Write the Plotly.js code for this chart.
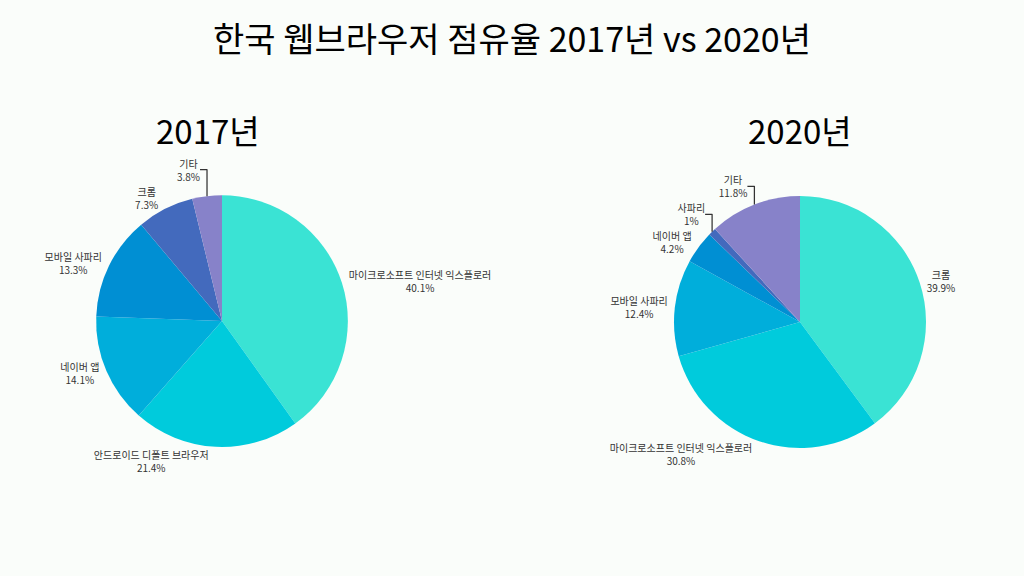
<!DOCTYPE html>
<html>
<head>
<meta charset="utf-8">
<script src="https://cdn.plot.ly/plotly-3.0.1.min.js"></script>
<style>
  html, body { margin: 0; padding: 0; background: #fafdfa; }
  #myDiv { width: 1024px; height: 576px; }
</style>
</head>
<body>
<div id="myDiv"></div>
<script>
var labels2017 = ['마이크로소프트 인터넷 익스플로러', '안드로이드 디폴트 브라우저', '네이버 앱', '모바일 사파리', '크롬', '기타'];
var values2017 = [40.1, 21.4, 14.1, 13.3, 7.3, 3.8];

var labels2020 = ['크롬', '마이크로소프트 인터넷 익스플로러', '모바일 사파리', '네이버 앱', '사파리', '기타'];
var values2020 = [39.9, 30.8, 12.4, 4.2, 1, 11.8];

var sliceColors = ['#3ae3d4', '#00cbdc', '#00aedb', '#008fd3', '#436abd', '#8782c9'];

var font = 'Noto Sans CJK KR, Noto Sans, sans-serif';

var trace1 = {
    type: 'pie',
    labels: labels2017,
    values: values2017,
    sort: false,
    direction: 'clockwise',
    rotation: 0,
    marker: { colors: sliceColors, line: { width: 0 } },
    textposition: 'outside',
    texttemplate: '%{label}<br>%{value}%',
    textfont: { size: 10, color: '#333', family: font },
    domain: { x: [0.0938, 0.3398], y: [0.224, 0.661] },
    showlegend: false,
    hoverinfo: 'label+value'
};

var trace2 = {
    type: 'pie',
    labels: labels2020,
    values: values2020,
    sort: false,
    direction: 'clockwise',
    rotation: 0,
    marker: { colors: sliceColors, line: { width: 0 } },
    textposition: 'outside',
    texttemplate: '%{label}<br>%{value}%',
    textfont: { size: 10, color: '#333', family: font },
    domain: { x: [0.6582, 0.9043], y: [0.222, 0.660] },
    showlegend: false,
    hoverinfo: 'label+value'
};

var layout = {
    width: 1024,
    height: 576,
    margin: { l: 0, r: 0, t: 0, b: 0 },
    paper_bgcolor: '#fafdfa',
    title: {
        text: '한국 웹브라우저 점유율 2017년 vs 2020년',
        font: { family: font, size: 34, color: '#000' },
        x: 0.5,
        xanchor: 'center',
        y: 0.93,
        yanchor: 'middle'
    },
    annotations: [
        { text: '2017년', x: 0.203, y: 0.775, xref: 'paper', yref: 'paper',
          xanchor: 'center', yanchor: 'middle',
          showarrow: false, font: { family: font, size: 33, color: '#000' } },
        { text: '2020년', x: 0.781, y: 0.775, xref: 'paper', yref: 'paper',
          xanchor: 'center', yanchor: 'middle',
          showarrow: false, font: { family: font, size: 33, color: '#000' } }
    ]
};

Plotly.newPlot('myDiv', [trace1, trace2], layout, { displayModeBar: false });
</script>
</body>
</html>
